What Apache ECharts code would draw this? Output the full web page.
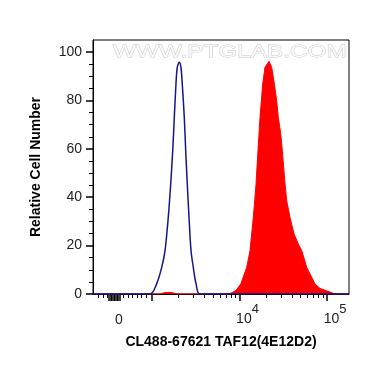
<!DOCTYPE html>
<html>
<head>
<meta charset="utf-8">
<script src="https://cdn.jsdelivr.net/npm/echarts@6/dist/echarts.min.js"></script>
<style>html,body{margin:0;padding:0;background:#fff}#c{width:370px;height:367px}</style>
</head>
<body>
<div id="c"></div>
<script>
// X positions are in display "decade" units of the biexponential axis (3 = 10^3, 4 = 10^4, 5 = 10^5)
var blueX = [2.326, 2.977, 3.054, 3.111, 3.149, 3.186, 3.214, 3.237, 3.255, 3.274, 3.289, 3.312, 3.331, 3.346, 3.369, 3.385, 3.403, 3.423, 3.446, 3.472, 3.503, 3.549, 5.251];
var blueY = [0, 0, 4.3, 11, 17.9, 31.7, 45.6, 59.3, 73, 86.8, 93.7, 95.8, 93.7, 86.8, 73, 59.3, 45.6, 31.7, 17.9, 11, 4.3, 0, 0];

var redX = [2.326, 3.091, 3.149, 3.229, 3.286, 3.869, 3.914, 3.960, 4.014, 4.082, 4.120, 4.158, 4.189, 4.211, 4.234, 4.265, 4.291, 4.337, 4.368, 4.398, 4.425, 4.443, 4.471, 4.489, 4.520, 4.539, 4.577, 4.623, 4.672, 4.711, 4.768, 4.863, 4.920, 5.034, 5.091, 5.251];
var redY = [0, 0, 0.6, 0.6, 0, 0, 0.5, 1.5, 4.1, 11, 17.9, 31.7, 45.5, 59.3, 73, 86.8, 93.7, 96.2, 93.7, 86.8, 79.9, 73, 66.2, 59.3, 45.5, 38.6, 31.7, 24.8, 20.7, 17.9, 11, 4.1, 2.3, 0.8, 0, 0];

var yTicks = [0, 20, 40, 60, 80, 100];
var yMinorTicks = [5, 10, 15, 25, 30, 35, 45, 50, 55, 65, 70, 75, 85, 90, 95];
var xLabelPos = [2.623, 4, 5];
var xLabelText = ['0', '10^4', '10^5'];
var xMajorTicks = [2.509, 2.526, 2.543, 2.560, 2.577, 2.594, 2.611, 2.629, 3, 4, 5];
var xLinearMinorTicks = [2.383, 2.440, 2.486, 2.669, 2.726, 2.771, 2.829, 2.874, 2.931];
var logMultipliers = [2, 3, 4, 5, 6, 7, 8, 9];
var decades = [3, 4];

var xMinorTicks = xLinearMinorTicks.slice();
decades.forEach(function (d) {
  logMultipliers.forEach(function (k) { xMinorTicks.push(d + Math.log10(k)); });
});

function pairs(xs, ys) { return xs.map(function (x, i) { return [x, ys[i]]; }); }

var XMIN = 2.326, XMAX = 5.251;
var FONT = 'Arial, "Liberation Sans", sans-serif';

var chart = echarts.init(document.getElementById('c'), null, { renderer: 'canvas' });
chart.setOption({
  animation: false,
  backgroundColor: '#fff',
  grid: { left: 93, right: 21, top: 40, bottom: 73, show: true, borderColor: '#000', borderWidth: 1, backgroundColor: 'transparent' },
  graphic: [{
    type: 'text', x: 113, y: 44, scaleX: 1.43, silent: true, z: 0,
    style: { text: 'WWW.PTGLAB.COM', font: '17px ' + FONT, fill: '#fbfbfb', stroke: '#c8c8c8', lineWidth: 0.8, verticalAlign: 'top' }
  }],
  xAxis: [{
    type: 'value', min: XMIN, max: XMAX, position: 'bottom',
    name: 'CL488-67621 TAF12(4E12D2)', nameLocation: 'middle', nameGap: 41,
    nameTextStyle: { fontFamily: FONT, fontWeight: 'bold', fontSize: 14, color: '#000' },
    axisLine: { show: true, onZero: false, lineStyle: { color: '#000', width: 1 } },
    splitLine: { show: false },
    axisTick: { show: true, customValues: xMajorTicks, length: 7, lineStyle: { color: '#000', width: 1.5 } },
    axisLabel: {
      show: true, customValues: xLabelPos, margin: 9, color: '#222',
      formatter: function (v) {
        var idx = -1;
        for (var i = 0; i < xLabelPos.length; i++) if (Math.abs(xLabelPos[i] - v) < 1e-6) idx = i;
        if (idx < 0) return '';
        var t = xLabelText[idx];
        if (t.indexOf('^') >= 0) {
          var p = t.split('^');
          return '{b|' + p[0] + '}{s|' + p[1] + '}';
        }
        return '{z|' + t + '}';
      },
      rich: {
        b: { fontFamily: FONT, fontSize: 14, color: '#222', verticalAlign: 'bottom', padding: [0, 0, 0, 16] },
        s: { fontFamily: FONT, fontSize: 13, color: '#222', verticalAlign: 'top', padding: [0, 0, 10, 0] },
        z: { fontFamily: FONT, fontSize: 14, color: '#222', padding: [10, 0, 0, 0] }
      }
    }
  }, {
    type: 'value', min: XMIN, max: XMAX, position: 'bottom', gridIndex: 0,
    axisLine: { show: false }, splitLine: { show: false }, axisLabel: { show: false },
    axisTick: { show: true, customValues: xMinorTicks, length: 4, lineStyle: { color: '#000', width: 1 } }
  }],
  yAxis: [{
    type: 'value', min: 0, max: 105,
    name: 'Relative Cell Number', nameLocation: 'middle', nameGap: 50,
    nameTextStyle: { fontFamily: FONT, fontWeight: 'bold', fontSize: 14, color: '#000' },
    axisLine: { show: true, onZero: false, lineStyle: { color: '#000', width: 1 } },
    splitLine: { show: false },
    axisTick: { show: true, customValues: yTicks, length: 7, lineStyle: { color: '#000', width: 1.5 } },
    axisLabel: { show: true, customValues: yTicks, margin: 11, fontFamily: FONT, fontSize: 14, color: '#222' }
  }, {
    type: 'value', min: 0, max: 105, position: 'left', gridIndex: 0,
    axisLine: { show: false }, splitLine: { show: false }, axisLabel: { show: false },
    axisTick: { show: true, customValues: yMinorTicks, length: 4, lineStyle: { color: '#000', width: 1 } }
  }],
  series: [{
    type: 'line', xAxisIndex: 0, yAxisIndex: 0, data: pairs(redX, redY),
    showSymbol: false, smooth: false, z: 2,
    lineStyle: { color: '#ff0000', width: 1 },
    areaStyle: { color: '#ff0000', opacity: 1 }
  }, {
    type: 'line', xAxisIndex: 0, yAxisIndex: 0, data: pairs(blueX, blueY),
    showSymbol: false, smooth: 0.3, z: 3,
    lineStyle: { color: '#14148c', width: 1.5 }
  }]
});
</script>
</body>
</html>
